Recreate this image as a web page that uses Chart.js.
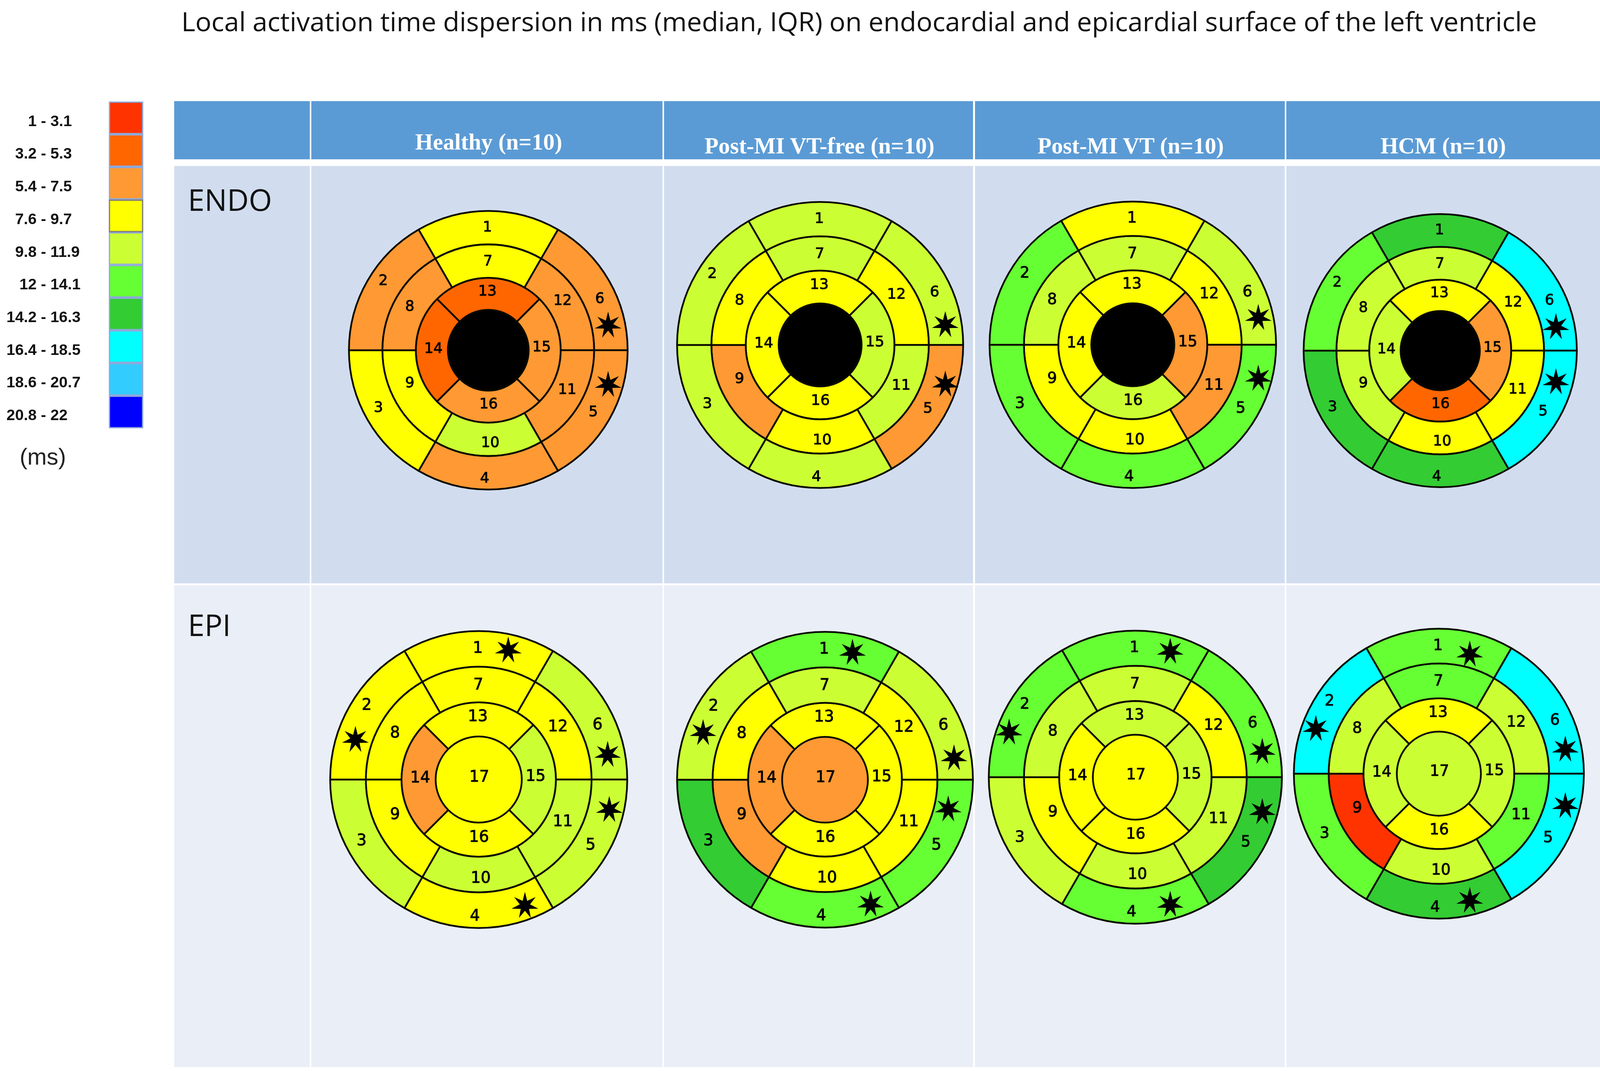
<!DOCTYPE html>
<html><head><meta charset="utf-8">
<script src="https://cdn.jsdelivr.net/npm/chart.js@4"></script>
<style>
html,body{margin:0;padding:0;background:#fff;overflow:hidden;}
#page{position:relative;width:100vw;height:100vh;overflow:hidden;background:#fff;}
.cell,.txt{position:absolute;}
.txt{white-space:nowrap;line-height:1;}
canvas{display:block;}
</style></head><body><div id="page"></div>
<script>
// ---------- text ----------
const chartTitle = "Local activation time dispersion in ms (median, IQR) on endocardial and epicardial surface of the left ventricle";
const columnTitles = ["Healthy (n=10)", "Post-MI VT-free (n=10)", "Post-MI VT (n=10)", "HCM (n=10)"];
const rowTitles = ["ENDO", "EPI"];
const legendUnit = "(ms)";

// ---------- legend ----------
const legendRanges = ["1 - 3.1","3.2 - 5.3","5.4 - 7.5","7.6 - 9.7","9.8 - 11.9","12 - 14.1","14.2 - 16.3","16.4 - 18.5","18.6 - 20.7","20.8 - 22"];
const legendColors = ["#FF3300","#FF6600","#FF9933","#FFFF00","#CCFF33","#66FF33","#33CC33","#00FFFF","#33CCFF","#0000FF"];
const legendCells = [1,1,1,1,1,1,1,1,1,1];

// ---------- bullseye structure (clockwise from the top of each ring) ----------
const outerSegments = [1,6,5,4,3,2];
const middleSegments = [7,12,11,10,9,8];
const innerSegments = [13,15,16,14];
const apexSegment = [17];
const outerShares = [1,1,1,1,1,1];
const middleShares = [1,1,1,1,1,1];
const innerShares = [1,1,1,1];
const apexShares = [1];

// ---------- range class of segments 1..17 (index into legendRanges; -1 = no data, black) ----------
const endoHealthy = [3,2,3,2,2,2, 3,2,3,4,2,2, 1,1,2,2, -1];
const endoVtFree  = [4,4,4,4,2,4, 4,3,2,3,4,3, 3,3,4,3, -1];
const endoVt      = [3,5,5,5,5,4, 4,4,3,3,2,3, 3,3,2,4, -1];
const endoHcm     = [6,5,6,6,7,7, 4,4,4,3,3,3, 3,4,2,1, -1];
const epiHealthy  = [3,3,4,3,4,4, 3,3,3,4,4,3, 3,2,4,3, 3];
const epiVtFree   = [5,4,6,5,5,4, 4,3,2,3,3,3, 3,2,3,3, 2];
const epiVt       = [5,5,4,5,6,5, 4,4,3,4,4,3, 4,3,4,3, 3];
const epiHcm      = [5,7,5,6,7,7, 5,4,0,4,5,4, 3,4,4,3, 4];

// ---------- segments carrying a significance star ----------
const endoStarSegments = [5,6];
const epiStarSegments = [1,2,4,5,6];

// ---------- layout only (reference pixels, 4633 x 2743) ----------
// The sandbox window may be narrower than the reference (it caps at 4096), so positions scale
// per axis to keep the table filling the frame, while circles and text scale uniformly.
const sx = window.innerWidth/4633, sy = window.innerHeight/2743, sr = 0.85*sx+0.15*sy;
const X = v=>v*sx, Y = v=>v*sy, S = v=>v*sr;
const panels = [
 {values:endoHealthy, stars:endoStarSegments, cx:1414, cy:897, r:396, spots:{6:[.86,-.179],5:[.86,.247]}},
 {values:endoVtFree,  stars:endoStarSegments, cx:2375, cy:883, r:406, spots:{6:[.875,-.141],5:[.875,.275]}},
 {values:endoVt,      stars:endoStarSegments, cx:3280, cy:883, r:407, spots:{6:[.876,-.189],5:[.876,.235]}},
 {values:endoHcm,     stars:endoStarSegments, cx:4170, cy:898, r:388, spots:{6:[.847,-.174],5:[.847,.23]}},
 {values:epiHealthy,  stars:epiStarSegments,  cx:1386, cy:1996, r:422, spots:{1:[.199,-.871],2:[-.83,-.269],6:[.868,-.168],5:[.879,.203],4:[.311,.849]}},
 {values:epiVtFree,   stars:epiStarSegments,  cx:2389, cy:1997, r:420, spots:{1:[.186,-.86],2:[-.824,-.317],6:[.872,-.147],5:[.833,.199],4:[.308,.842]}},
 {values:epiVt,       stars:epiStarSegments,  cx:3288, cy:1990, r:416, spots:{1:[.238,-.858],2:[-.861,-.307],6:[.866,-.175],5:[.866,.236],4:[.238,.869]}},
 {values:epiHcm,      stars:epiStarSegments,  cx:4166, cy:1981, r:412, spots:{1:[.213,-.824],2:[-.848,-.31],6:[.872,-.168],5:[.872,.222],4:[.213,.875]}}
];
const labelNudge = {1:[-.006,0],2:[.008,-.056],3:[-.026,-.025],4:[-.026,.044],5:[-.009,.006],6:[.038,.074],
 7:[-.003,.006],8:[-.009,.01],9:[-.009,-.08],10:[.014,.028],11:[.012,-.033],12:[-.021,-.031],
 13:[-.006,-.015],14:[.011,-.008],15:[-.022,-.018],16:[.002,-.013],17:[.004,-.012]};
const stroke = Math.max(2,S(5));

const page = document.getElementById('page');
function box(x,y,w,h,c){const d=document.createElement('div');d.className='cell';d.style.cssText=`left:${x}px;top:${y}px;width:${w}px;height:${h}px;background:${c}`;page.appendChild(d);}
function text(s,x,y,css){const d=document.createElement('div');d.className='txt';d.textContent=s;d.style.cssText=`left:${x}px;top:${y}px;`+css;page.appendChild(d);return d;}

// table
const colEdges=[505,902,1923,2823,3725,4633];
for(let i=0;i<5;i++){
  const x=X(colEdges[i]), w=X(colEdges[i+1])-x-(i<4?4.5:0);
  box(x,Y(259),w,Y(149),'#5B9BD5');
  box(x,Y(425),w,Y(1069),'#D1DDEF');
  box(x,Y(1499),w,Y(1234),'#E9EEF7');
}
const headFont=S(65);
[[1415,379],[2373,389],[3274,389],[4179,389]].forEach((p,i)=>
  text(columnTitles[i],X(p[0]),Y(p[1])-0.8375*headFont,`font:bold ${headFont}px "Liberation Serif",serif;color:#fff;transform:translateX(-50%);`));
const rowFont=S(85);
text(rowTitles[0],X(544),Y(526)-0.888*rowFont,`font:${rowFont}px "Open Sans",sans-serif;color:#111;`);
text(rowTitles[1],X(544),Y(1615)-0.888*rowFont,`font:${rowFont}px "Open Sans",sans-serif;color:#111;`);

const titleFont=S(76);
const titleEl=text(chartTitle,X(525),Y(68)-0.888*titleFont,`font:${titleFont}px "Open Sans",sans-serif;color:#111;`);
const extra=X(3925)-titleEl.getBoundingClientRect().width;
titleEl.style.wordSpacing=(extra/(chartTitle.split(' ').length-1))+'px';

const unitFont=S(66);
text(legendUnit,X(124),Y(1165)-unitFont/2,`font:${unitFont}px "Liberation Sans",sans-serif;color:#222;transform:translateX(-50%);`);

function mount(x,y,w,h){const c=document.createElement('canvas');c.style.cssText=`position:absolute;left:${x}px;top:${y}px;`;c.width=w;c.height=h;page.appendChild(c);return c;}

// legend chart
const legendLabels={id:'legendLabels',afterDatasetsDraw(ch){
  const g=ch.ctx, sc=ch.scales.y, dashX=X(126);
  g.save();g.font=`bold ${S(44)}px "Liberation Sans",sans-serif`;g.fillStyle='#111';g.textBaseline='middle';g.textAlign='left';
  legendRanges.forEach((s,i)=>{
    const left=s.split('-')[0];
    const x=dashX-g.measureText(left).width-g.measureText('-').width/2;
    g.fillText(s,x,sc.getPixelForValue(i)+Y(10));
  });
  g.restore();
}};
new Chart(mount(0,Math.round(Y(258)),Math.round(X(430)),Math.round(Y(841))),{
  type:'bar',
  data:{labels:legendRanges,datasets:[{data:legendCells,backgroundColor:legendColors,
    borderColor:legendRanges.map((_,i)=>i===3?'#7F7F7F':'#8EA9DB'),borderWidth:S(4),borderSkipped:false,
    barPercentage:1,categoryPercentage:1}]},
  options:{indexAxis:'y',responsive:false,animation:false,devicePixelRatio:1,
    layout:{padding:{left:X(315),right:X(15),top:2,bottom:2}},
    scales:{x:{display:false,min:0,max:1},y:{display:false}},
    plugins:{legend:{display:false},tooltip:{enabled:false}}},
  plugins:[legendLabels]
});

// bullseye charts
const bullseyeMarks={id:'bullseyeMarks',afterDatasetsDraw(ch,_,opts){
  const g=ch.ctx, p=opts.panel, rings=[outerSegments,middleSegments,innerSegments,apexSegment];
  const first=ch.getDatasetMeta(0).data[0], cx=first.x, cy=first.y, R=first.outerRadius;
  g.save();
  g.fillStyle='#000';g.strokeStyle='#000';g.textAlign='center';g.textBaseline='middle';
  g.font=`${Math.round(R*0.105)}px "DejaVu Sans",sans-serif`;g.lineWidth=1.2;
  rings.forEach((segs,ri)=>{
    segs.forEach((seg,si)=>{
      if(seg===17 && p.values[16]<0) return;
      const arc=ch.getDatasetMeta(ri).data[si];
      const c=seg===17?{x:cx,y:cy}:arc.getCenterPoint();
      const n=labelNudge[seg], x=c.x+n[0]*R, y=c.y+n[1]*R;
      g.fillText(String(seg),x,y);g.strokeText(String(seg),x,y);
    });
  });
  p.stars.forEach(seg=>{
    const s=p.spots[seg], x=cx+s[0]*R, y=cy+s[1]*R, big=S(39), small=S(15), pts=7;
    g.beginPath();
    for(let k=0;k<pts*2;k++){
      const rad=k%2?small:big, a=-Math.PI/2+k*Math.PI/pts;
      const px=x+rad*Math.cos(a), py=y+rad*Math.sin(a);
      k?g.lineTo(px,py):g.moveTo(px,py);
    }
    g.closePath();g.fill();
  });
  g.restore();
}};
function ringSet(segs,shares,values,rotation,weight,border){
  return {data:shares,weight,rotation,
    backgroundColor:segs.map(s=>{const v=values[s-1];return v<0?'#000000':legendColors[v];}),
    borderColor:'#0A0A00',borderWidth:border};
}
panels.forEach(p=>{
  const size=Math.round(2*S(p.r)+stroke);
  const cv=mount(Math.round(X(p.cx)-size/2),Math.round(Y(p.cy)-size/2),size,size);
  new Chart(cv,{
    type:'doughnut',
    data:{labels:[],datasets:[
      ringSet(outerSegments,outerShares,p.values,-30,24,stroke),
      ringSet(middleSegments,middleShares,p.values,-30,24,stroke),
      ringSet(innerSegments,innerShares,p.values,-45,23,stroke),
      ringSet(apexSegment,apexShares,p.values,0,29,0)
    ]},
    options:{responsive:false,animation:false,devicePixelRatio:1,cutout:0,
      plugins:{legend:{display:false},tooltip:{enabled:false},bullseyeMarks:{panel:p}}},
    plugins:[bullseyeMarks]
  });
});
</script></body></html>
